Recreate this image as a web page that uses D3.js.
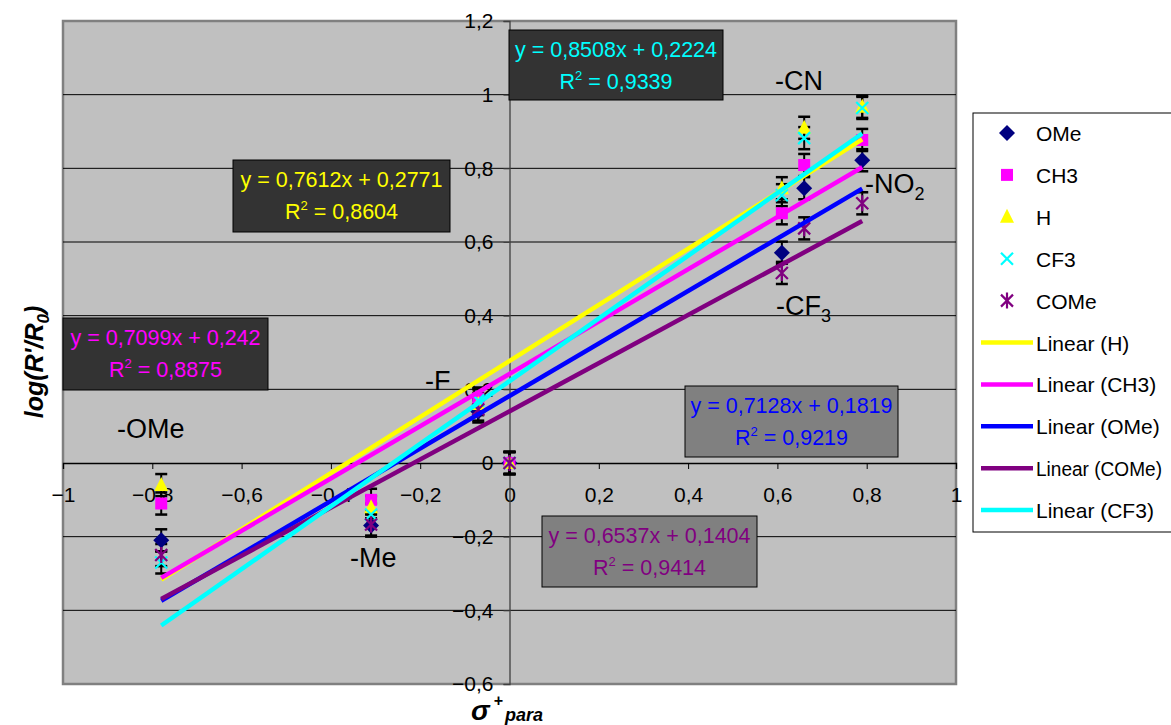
<!DOCTYPE html>
<html><head><meta charset="utf-8">
<script src="https://cdn.jsdelivr.net/npm/d3@7"></script>
<style>body{margin:0;background:#fff}svg{display:block;font-family:Arial,"Liberation Sans",sans-serif}</style>
</head><body><svg id="c" width="1171" height="725"></svg>
<script>
// ---- data ----
const sigma = [-0.78, -0.31, -0.07, 0, 0.61, 0.66, 0.79];
const substituentLabels = ["-OMe", "-Me", "-F", "", "-CF3", "-CN", "-NO2"];
const seriesNames = ["OMe", "CH3", "H", "CF3", "COMe"];
const valsOMe  = [-0.21, -0.17, 0.14, 0, 0.571, 0.746, 0.822];
const valsCH3  = [-0.11, -0.10, 0.175, 0, 0.678, 0.809, 0.877];
const valsH    = [-0.06, -0.12, 0.16, 0, 0.746, 0.91, 0.967];
const valsCF3  = [-0.27, -0.14, 0.17, 0, 0.727, 0.882, 0.964];
const valsCOMe = [-0.25, -0.167, 0.145, 0, 0.516, 0.637, 0.705];
const errorBar = 0.03;
const trendNames = ["H", "CH3", "OMe", "COMe", "CF3"];
const trendSlopes = [0.7612, 0.7099, 0.7128, 0.6537, 0.8508];
const trendIntercepts = [0.2771, 0.242, 0.1819, 0.1404, 0.2224];
const trendR2 = ["0,8604", "0,8875", "0,9219", "0,9414", "0,9339"];
const xTicks = [-1, -0.8, -0.6, -0.4, -0.2, 0, 0.2, 0.4, 0.6, 0.8, 1];
const yTicks = [-0.6, -0.4, -0.2, 0, 0.2, 0.4, 0.6, 0.8, 1, 1.2];

// ---- setup ----
const svg = d3.select("#c");
const L = 63, R = 956, T = 21, B = 684;
const x = d3.scaleLinear().domain([-1, 1]).range([L, R]);
const y = d3.scaleLinear().domain([-0.6, 1.2]).range([B, T]);
const fmt = v => d3.format("")(+v.toFixed(1)).replace(".", ",");

const colors = {OMe:"#000080", CH3:"#FF00FF", H:"#FFFF00", CF3:"#00FFFF", COMe:"#800080"};
const lineColors = {H:"#FFFF00", CH3:"#FF00FF", OMe:"#0000FF", COMe:"#800080", CF3:"#00FFFF"};
const seriesVals = {OMe:valsOMe, CH3:valsCH3, H:valsH, CF3:valsCF3, COMe:valsCOMe};

svg.append("rect").attr("x", L).attr("y", T).attr("width", R - L).attr("height", B - T)
  .attr("fill", "#C0C0C0").attr("stroke", "#808080").attr("stroke-width", 2.5);

// gridlines
svg.append("g").selectAll("line").data(yTicks.filter(v => v !== -0.6 && v !== 1.2 && v !== 0)).join("line")
  .attr("x1", L).attr("x2", R).attr("y1", d => y(d)).attr("y2", d => y(d))
  .attr("stroke", "#000").attr("stroke-width", 1);

// axes
const xAxis = d3.axisBottom(x).tickValues(xTicks).tickSize(6).tickFormat(fmt);
const gx = svg.append("g").attr("transform", `translate(0,${y(0)})`).call(xAxis);
gx.select(".domain").attr("stroke", "#000").attr("stroke-width", 1.3);
gx.selectAll(".tick line").attr("stroke", "#000");
gx.selectAll(".tick text").attr("font-size", 21).attr("fill", "#000").attr("dy", 30).attr("font-family", "Arial, 'Liberation Sans'");

const yAxis = d3.axisLeft(y).tickValues(yTicks).tickSize(6).tickFormat(fmt);
const gy = svg.append("g").attr("transform", `translate(${x(0)},0)`).call(yAxis);
gy.select(".domain").attr("stroke", "#404040").attr("stroke-width", 1.3);
gy.selectAll(".tick line").attr("stroke", "#404040");
gy.selectAll(".tick text").attr("font-size", 21).attr("fill", "#000").attr("dx", -7).attr("font-family", "Arial, 'Liberation Sans'");

// points + error bars
const gPts = svg.append("g");
seriesNames.forEach(name => {
  const vals = seriesVals[name];
  const g = gPts.append("g");
  sigma.forEach((s, i) => {
    const px = x(s), y1 = y(vals[i] + errorBar), y2 = y(vals[i] - errorBar);
    g.append("line").attr("x1", px).attr("x2", px).attr("y1", y1).attr("y2", y2).attr("stroke", "#000").attr("stroke-width", 2);
    [y1, y2].forEach(yy => g.append("line").attr("x1", px - 6).attr("x2", px + 6).attr("y1", yy).attr("y2", yy).attr("stroke", "#000").attr("stroke-width", 2.5));
  });
});
function marker(g, name, px, py) {
  const c = colors[name];
  if (name === "OMe") g.append("path").attr("d", `M${px},${py-8}L${px+8},${py}L${px},${py+8}L${px-8},${py}Z`).attr("fill", c);
  else if (name === "CH3") g.append("rect").attr("x", px-6).attr("y", py-6).attr("width", 12).attr("height", 12).attr("fill", c);
  else if (name === "H") g.append("path").attr("d", `M${px},${py-8}L${px+7},${py+6}L${px-7},${py+6}Z`).attr("fill", c);
  else if (name === "CF3") g.append("path").attr("d", `M${px-6},${py-6}L${px+6},${py+6}M${px+6},${py-6}L${px-6},${py+6}`).attr("stroke", c).attr("stroke-width", 2.2);
  else g.append("path").attr("d", `M${px-6},${py-6}L${px+6},${py+6}M${px+6},${py-6}L${px-6},${py+6}M${px},${py-8}L${px},${py+8}`).attr("stroke", c).attr("stroke-width", 2.2);
}
seriesNames.forEach(name => {
  const vals = seriesVals[name];
  const g = gPts.append("g");
  sigma.forEach((s, i) => marker(g, name, x(s), y(vals[i])));
});

// trendlines
const xr = d3.extent(sigma);
trendNames.forEach((n, i) => {
  svg.append("line").attr("x1", x(xr[0])).attr("x2", x(xr[1]))
    .attr("y1", y(trendSlopes[i] * xr[0] + trendIntercepts[i]))
    .attr("y2", y(trendSlopes[i] * xr[1] + trendIntercepts[i]))
    .attr("stroke", lineColors[n]).attr("stroke-width", 4.5);
});

// equation boxes
const boxes = {
  CF3:  {x:509, y:30,  w:214, h:70, fill:"#333333"},
  H:    {x:233, y:160, w:217, h:72, fill:"#333333"},
  CH3:  {x:63,  y:318, w:205, h:72, fill:"#333333"},
  OMe:  {x:685, y:386, w:213, h:71, fill:"#808080"},
  COMe: {x:542, y:516, w:215, h:71, fill:"#808080"}
};
trendNames.forEach((n, i) => {
  const b = boxes[n];
  const g = svg.append("g");
  g.append("rect").attr("x", b.x).attr("y", b.y).attr("width", b.w).attr("height", b.h)
    .attr("fill", b.fill).attr("stroke", "#000").attr("stroke-width", 1);
  const cx = b.x + b.w / 2;
  g.append("text").attr("x", cx).attr("y", b.y + 27).attr("text-anchor", "middle").attr("font-size", 21.5)
    .attr("fill", lineColors[n])
    .text(`y = ${String(trendSlopes[i]).replace(".", ",")}x + ${String(trendIntercepts[i]).replace(".", ",")}`);
  const t = g.append("text").attr("x", cx).attr("y", b.y + 59).attr("text-anchor", "middle").attr("font-size", 21.5)
    .attr("fill", lineColors[n]);
  t.append("tspan").text("R");
  t.append("tspan").attr("dy", -9).attr("font-size", 13).text("2");
  t.append("tspan").attr("dy", 9).text(" = " + trendR2[i]);
});

// substituent labels
const labPos = [[117, 438], [350, 567], [425, 390], null, [776, 315], [775, 90], [865, 193]];
substituentLabels.forEach((lab, i) => {
  if (!lab) return;
  const t = svg.append("text").attr("x", labPos[i][0]).attr("y", labPos[i][1]).attr("font-size", 27).attr("fill", "#000");
  const m = lab.match(/^(.*?)(\d)$/);
  if (m) { t.append("tspan").text(m[1]); t.append("tspan").attr("font-size", 18).attr("dy", 7).text(m[2]); }
  else t.text(lab);
});

// axis titles
const yt = svg.append("text").attr("transform", "translate(43,362) rotate(-90)").attr("text-anchor", "middle")
  .attr("font-size", 25).attr("font-weight", "bold").attr("font-style", "italic");
yt.append("tspan").text("log(R'/R");
yt.append("tspan").attr("font-size", 17).attr("dy", 6).text("0");
yt.append("tspan").attr("dy", -6).text(")");

const xt = svg.append("text").attr("x", 471).attr("y", 720).attr("font-weight", "bold").attr("font-style", "italic");
xt.append("tspan").attr("font-size", 28).text("σ");
xt.append("tspan").attr("font-size", 16).attr("dy", -14).attr("dx", 4).text("+");
xt.append("tspan").attr("font-size", 18).attr("dy", 15).attr("dx", 2).text("para");

// legend
const lg = svg.append("g");
lg.append("rect").attr("x", 973).attr("y", 113).attr("width", 230).attr("height", 419)
  .attr("fill", "#fff").attr("stroke", "#000").attr("stroke-width", 1);
const legY0 = 133, legDy = 41.9;
seriesNames.forEach((n, i) => {
  const yy = legY0 + i * legDy;
  marker(lg, n, 1007, yy);
  lg.append("text").attr("x", 1036).attr("y", yy + 8).attr("font-size", 21).text(n);
});
trendNames.forEach((n, i) => {
  const yy = legY0 + (i + 5) * legDy;
  lg.append("line").attr("x1", 981).attr("x2", 1033).attr("y1", yy).attr("y2", yy).attr("stroke", lineColors[n]).attr("stroke-width", 4.5);
  const t = lg.append("text").attr("x", 1036).attr("y", yy + 8).attr("font-size", 21).text(`Linear (${n})`);
  if (t.node().getComputedTextLength() > 126) t.attr("font-size", 20).attr("textLength", 126).attr("lengthAdjust", "spacingAndGlyphs");
});
</script></body></html>
